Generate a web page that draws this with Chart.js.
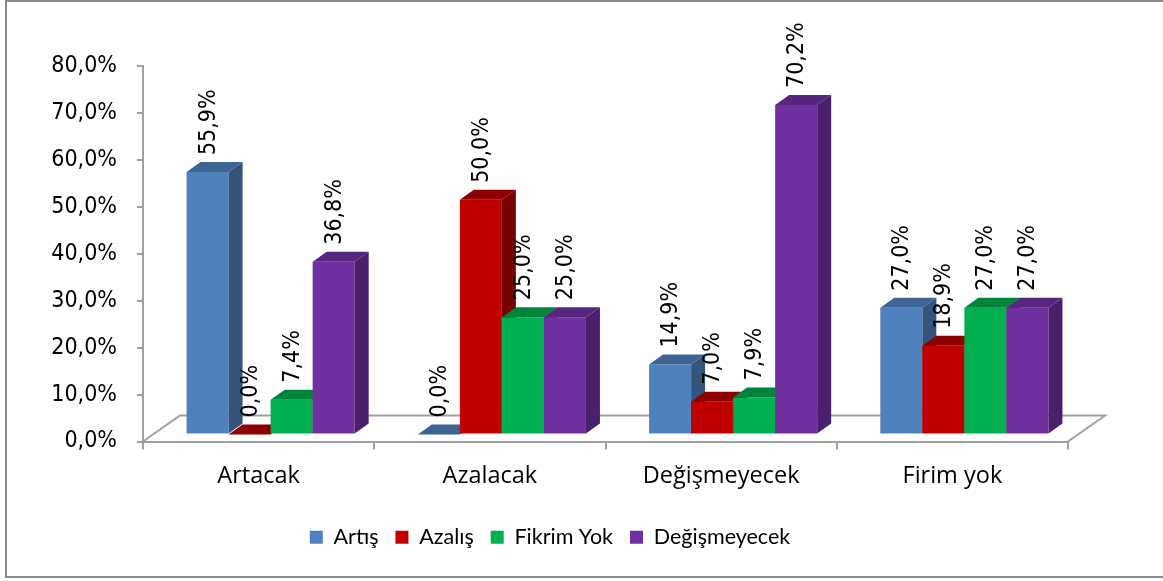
<!DOCTYPE html>
<html>
<head>
<meta charset="utf-8">
<script src="https://cdn.jsdelivr.net/npm/chart.js@4"></script>
<style>
html,body{margin:0;padding:0;background:#fff;}
#wrap{width:1163px;height:581px;position:relative;}
</style>
</head>
<body>
<div id="wrap"><canvas id="c" width="1163" height="581"></canvas></div>
<script>
// ---- data ----
const categories = ['Artacak', 'Azalacak', 'Değişmeyecek', 'Firim yok'];
const seriesNames = ['Artış', 'Azalış', 'Fikrim Yok', 'Değişmeyecek'];
const artis        = [55.9, 0.0, 14.9, 27.0];
const azalis       = [0.0, 50.0, 7.0, 18.9];
const fikrimYok    = [7.4, 25.0, 7.9, 27.0];
const degismeyecek = [36.8, 25.0, 70.2, 27.0];
const yMin = 0, yMax = 80, yStep = 10;

// ---- styles ----
const frontColors = ['#4F81BD', '#C00000', '#00B050', '#7030A0'];
const topColors   = ['#3D6593', '#8B0000', '#00843C', '#57267E'];
const sideColors  = ['#34547C', '#770000', '#007434', '#4A1F6B'];
const NUM_FONT = "'Liberation Sans Narrow', 'DejaVu Sans Condensed', 'Liberation Sans', sans-serif";
const TXT_FONT = "'Open Sans', 'Noto Sans', sans-serif";
const LEG_FONT = "Lato, 'Open Sans', sans-serif";
const AXIS_COLOR = '#A0A0A0';
const DEPTH_X = 14, DEPTH_Y = 10;   // bar depth
const FLOOR_X = 37, FLOOR_Y = 26;   // floor depth
const SHIFT_X = 12, SHIFT_Y = -7;   // bars sit inside the floor depth

const fmt = v => v.toFixed(1).replace('.', ',') + '%';

const seriesValues = [artis, azalis, fikrimYok, degismeyecek];

const threeD = {
  id: 'threeD',
  beforeDraw(chart) {
    const ctx = chart.ctx;
    ctx.save();
    ctx.fillStyle = '#fff';
    ctx.fillRect(0, 0, chart.width, chart.height);
    ctx.strokeStyle = '#8A8A8A';
    ctx.lineWidth = 2;
    ctx.strokeRect(6, 1, chart.width + 10, 576);
    ctx.restore();
  },
  beforeDatasetsDraw(chart) {
    const ctx = chart.ctx;
    const xs = chart.scales.x, ys = chart.scales.y;
    const y0 = ys.getPixelForValue(0);
    ctx.save();
    ctx.strokeStyle = AXIS_COLOR;
    ctx.lineWidth = 2;
    ctx.beginPath();
    ctx.moveTo(xs.left, y0);
    ctx.lineTo(xs.left + FLOOR_X, y0 - FLOOR_Y);
    ctx.lineTo(xs.right + FLOOR_X, y0 - FLOOR_Y);
    ctx.lineTo(xs.right, y0);
    ctx.stroke();
    ctx.restore();
  },
  // bars are drawn below, left series first, so the 3D faces overlap correctly
  beforeDatasetDraw() { return false; },
  afterDatasetsDraw(chart) {
    const ctx = chart.ctx;
    ctx.save();
    ctx.translate(SHIFT_X, SHIFT_Y);
    chart.data.datasets.forEach((ds, i) => {
      const meta = chart.getDatasetMeta(i);
      meta.data.forEach(bar => {
        bar.draw(ctx);
        const p = bar.getProps(['x', 'y', 'base', 'width'], true);
        const l = p.x - p.width / 2, r = p.x + p.width / 2;
        ctx.fillStyle = sideColors[i];
        ctx.beginPath();
        ctx.moveTo(r, p.y);
        ctx.lineTo(r + DEPTH_X, p.y - DEPTH_Y);
        ctx.lineTo(r + DEPTH_X, p.base - DEPTH_Y);
        ctx.lineTo(r, p.base);
        ctx.closePath();
        ctx.fill();
        ctx.fillStyle = topColors[i];
        ctx.beginPath();
        ctx.moveTo(l, p.y);
        ctx.lineTo(l + DEPTH_X, p.y - DEPTH_Y);
        ctx.lineTo(r + DEPTH_X, p.y - DEPTH_Y);
        ctx.lineTo(r, p.y);
        ctx.closePath();
        ctx.fill();
      });
    });
    ctx.restore();

    ctx.save();
    ctx.font = '23px ' + NUM_FONT;
    ctx.fillStyle = '#000';
    ctx.textAlign = 'left';
    ctx.textBaseline = 'middle';
    chart.data.datasets.forEach((ds, i) => {
      const meta = chart.getDatasetMeta(i);
      meta.data.forEach((bar, j) => {
        const lx = bar.x + SHIFT_X + 1;
        const ly = bar.y + SHIFT_Y - 17;
        ctx.save();
        ctx.translate(lx, ly);
        ctx.rotate(-Math.PI / 2);
        ctx.fillText(fmt(ds.data[j]), 0, 0);
        ctx.restore();
      });
    });
    ctx.restore();
  }
};

const datasets = seriesNames.map((name, i) => ({
  label: name,
  data: seriesValues[i],
  backgroundColor: frontColors[i],
  borderWidth: 0,
  categoryPercentage: 0.727,
  barPercentage: 1.0,
  clip: false
}));

new Chart(document.getElementById('c'), {
  type: 'bar',
  data: { labels: categories, datasets },
  plugins: [threeD],
  options: {
    responsive: false,
    animation: false,
    devicePixelRatio: 1,
    layout: { padding: { left: 32, right: 95, top: 66, bottom: 23 } },
    plugins: {
      tooltip: { enabled: false },
      legend: {
        position: 'bottom',
        labels: {
          font: { family: LEG_FONT, size: 21.5 },
          color: '#000',
          boxWidth: 13,
          boxHeight: 13,
          padding: 17
        }
      }
    },
    scales: {
      x: {
        ticks: { font: { family: TXT_FONT, size: 23.5 }, color: '#000', padding: 13 },
        grid: { drawOnChartArea: false, tickLength: 8, color: AXIS_COLOR, lineWidth: 2, offset: true },
        border: { color: AXIS_COLOR, width: 2 },
        afterFit(s) { s.height = 68; }
      },
      y: {
        min: yMin, max: yMax,
        ticks: { stepSize: yStep, callback: v => fmt(v), font: { family: NUM_FONT, size: 23 }, color: '#000', padding: 20 },
        grid: { drawOnChartArea: false, tickLength: 6, color: AXIS_COLOR, lineWidth: 2 },
        border: { color: AXIS_COLOR, width: 2 },
        afterFit(s) { s.width = 111; }
      }
    }
  }
});
</script>
</body>
</html>
